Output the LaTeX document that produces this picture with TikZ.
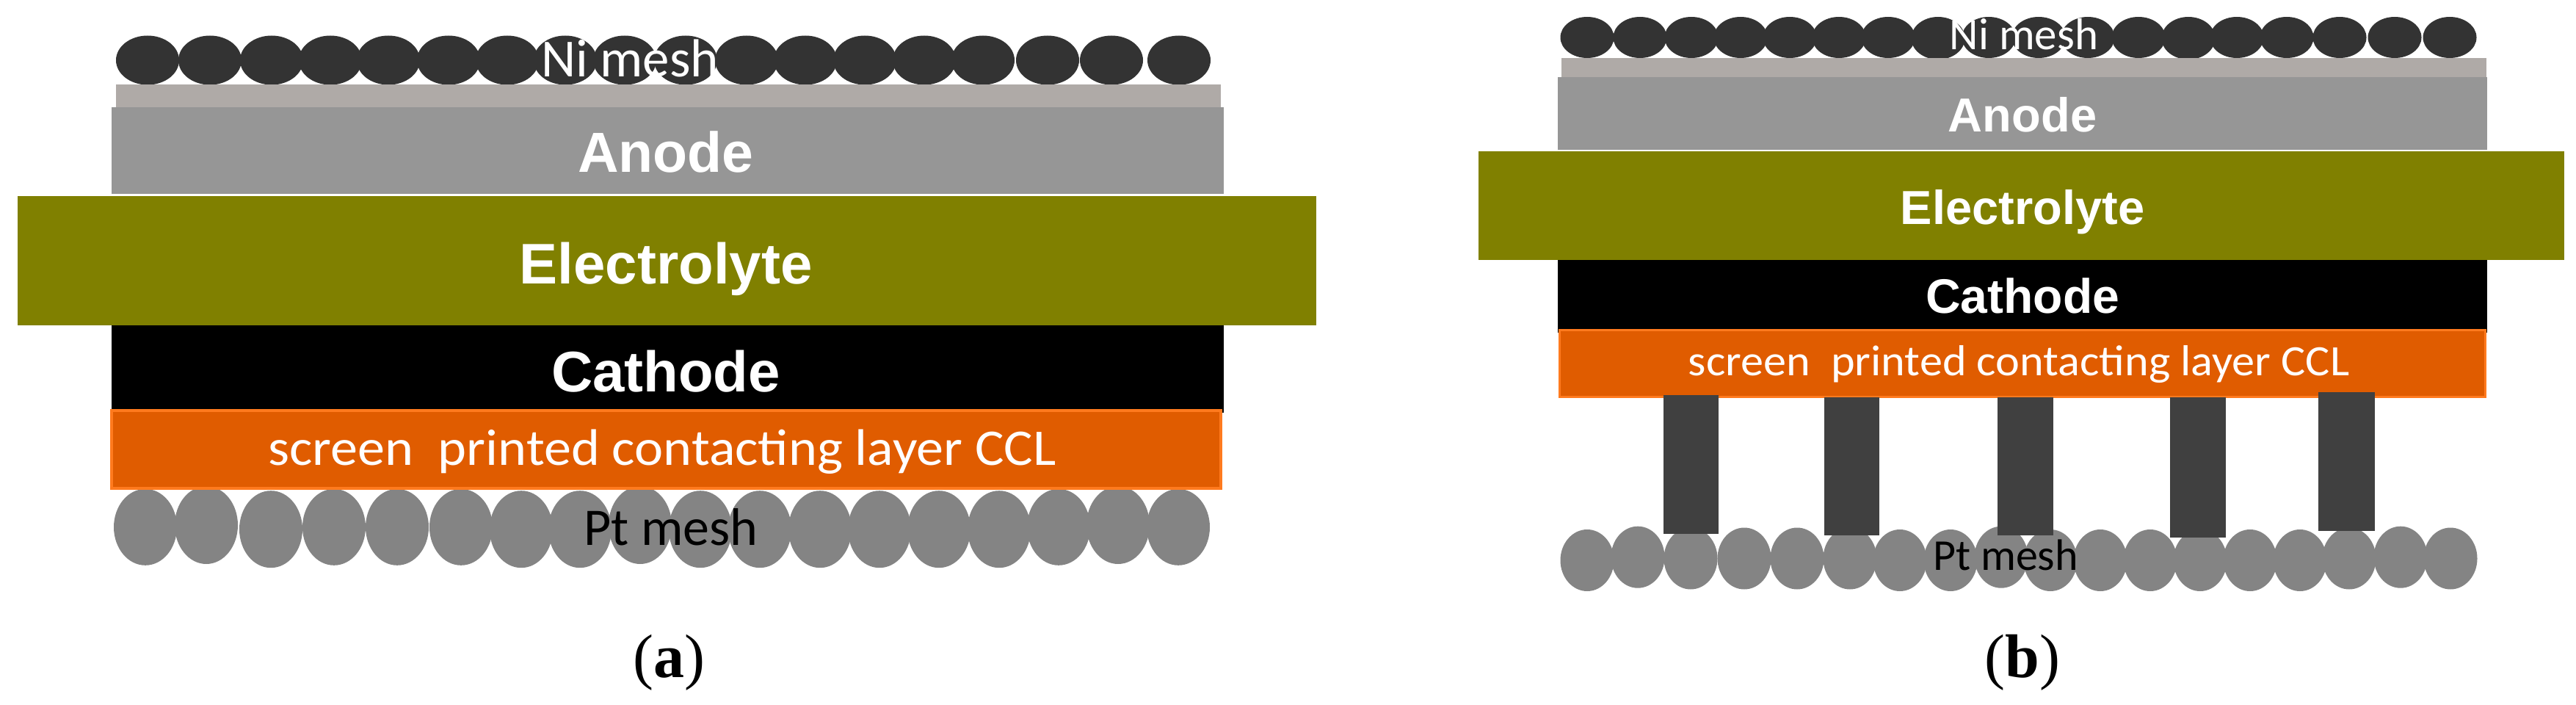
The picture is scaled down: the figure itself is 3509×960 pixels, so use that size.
\documentclass[tikz,border=0pt]{standalone}
\usepackage{fontspec}
\setmainfont{Carlito}
\newfontfamily\boldsans{Liberation Sans}[BoldFont={Liberation Sans Bold}]
\newfontfamily\capserif{Liberation Serif}
\definecolor{mint}{HTML}{333333}
\definecolor{nilayer}{HTML}{AFAAA7}
\definecolor{anodec}{HTML}{969696}
\definecolor{elec}{HTML}{808000}
\definecolor{cclfill}{HTML}{E05C00}
\definecolor{cclline}{HTML}{FF7A1E}
\definecolor{ptc}{HTML}{848484}
\definecolor{pillar}{HTML}{404040}
\newcommand{\fs}[1]{\fontsize{#1}{#1}\selectfont}
\tikzset{
  x=1pt,y=-1pt,
  lbl/.style={anchor=base,inner sep=0pt,outer sep=0pt},
  bigl/.style={lbl,text=white,font=\boldsans\bfseries},
  thinl/.style={lbl,text=white},
  ptl/.style={lbl,text=black},
  capl/.style={lbl,text=black,font=\capserif}
}
\begin{document}
\begin{tikzpicture}
\useasboundingbox (0,0) rectangle (3509,960);
% ---------- panel a
\foreach \x in {201,286,370,450,529,611,691,770,851,934,1017,1097,1178,1259,1339,1427,1514,1606}
  \fill[mint] (\x,82) ellipse [x radius=43,y radius=33.5];
\fill[nilayer] (158,115) rectangle (1663,146);
\fill[anodec] (152,146) rectangle (1667,264);
\fill[elec] (24,267) rectangle (1793,443);
\fill[black] (152,443) rectangle (1667,562);
\foreach \x/\y/\r in {198/717.8/52,281/715/53,369/720.7/52.5,455/717.8/52,541/717.8/52,628/717.8/52,710/720.7/52.5,790/720.7/52.5,872/715/53,954/720.7/52.5,1035/720.7/52.5,1117/720.7/52.5,1198/720.7/52.5,1279/720.7/52.5,1361/720.7/52.5,1442/717.8/52,1523/715/53,1605/717.8/52}
  \fill[ptc] (\x,\y) ellipse [x radius=43,y radius=\r];
\filldraw[fill=cclfill,draw=cclline,line width=4pt] (152,559) rectangle (1663,665);
\node[thinl,font=\fs{73}] (nia) at (858,105) {Ni mesh};
\node[bigl,font=\boldsans\bfseries\fs{77}] (ana) at (907,235) {Anode};
\node[bigl,font=\boldsans\bfseries\fs{78}] (ela) at (907,386) {Electrolyte};
\node[bigl,font=\boldsans\bfseries\fs{78}] (caa) at (907,533) {Cathode};
\node[thinl,font=\fs{70},xscale=1.06] (ccla) at (902,633) {screen\ \ printed contacting layer CCL};
\node[ptl,font=\fs{72}] (pta) at (914,742) {Pt mesh};
\node[capl,font=\capserif\fs{84}] (capa) at (911,922) {(\textbf{a})};
% ---------- panel b
\foreach \x/\y/\r in {2162/51/28,2234/51/28,2304/51/28,2371/51/28,2438/51/28,2505/51/28,2572/51/28,2640/52/29,2709/51/28,2777/51/28,2844/51/28,2913/51/28,2981/52/29,3047/51/28,3115/51/28,3187/51/28,3262/51/28,3337/51/28}
  \fill[mint] (\x,\y) ellipse [x radius=36.5,y radius=\r];
\fill[nilayer] (2127,79) rectangle (3387,105);
\fill[anodec] (2122,105) rectangle (3388,204);
\fill[elec] (2014,206) rectangle (3493,354);
\fill[black] (2122,354) rectangle (3388,453);
\filldraw[fill=cclfill,draw=cclline,line width=3pt] (2124,449) rectangle (3385,540);
\foreach \x/\y in {2162/763,2231/758.7,2303/760.5,2376/760.5,2448/760.5,2520/760.5,2588/763,2657/763,2726/758.7,2793/763,2861/763,2929/763,2997/763,3065/763,3133/763,3200/760.5,3270/758.7,3338/760.5}
  \fill[ptc] (\x,\y) ellipse [x radius=36.5,y radius=42];
\foreach \l/\r/\t/\b in {2266/2341/538/727,2485/2560/540.5/729,2721/2797/540.5/729,2956/3032/540.5/732,3158/3235/534/723}
  \fill[pillar] (\l,\t) rectangle (\r,\b);
\node[thinl,font=\fs{61}] (nib) at (2757,68) {Ni mesh};
\node[bigl,font=\boldsans\bfseries\fs{65}] (anb) at (2755,180) {Anode};
\node[bigl,font=\boldsans\bfseries\fs{65}] (elb) at (2755,305) {Electrolyte};
\node[bigl,font=\boldsans\bfseries\fs{66}] (cab) at (2755,426) {Cathode};
\node[thinl,font=\fs{59},xscale=1.055] (cclb) at (2750,511) {screen\ \ printed contacting layer CCL};
\node[ptl,font=\fs{60}] (ptb) at (2732,776) {Pt mesh};
\node[capl,font=\capserif\fs{84}] (capb) at (2755,922) {(\textbf{b})};
\end{tikzpicture}
\end{document}
